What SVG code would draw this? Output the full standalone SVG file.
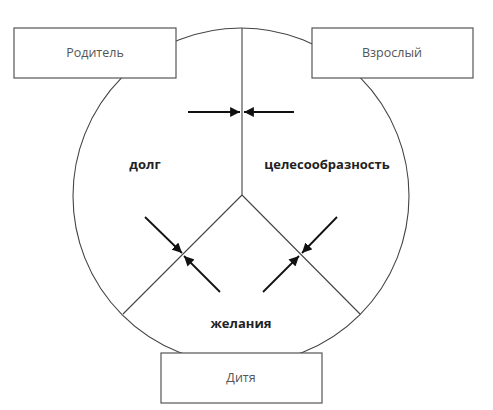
<svg xmlns="http://www.w3.org/2000/svg" width="493" height="410" viewBox="0 0 493 410">
<style>
.box{fill:#fff;stroke:#555;stroke-width:1.2}
.lbl{font-family:"Open Sans","Liberation Sans",sans-serif;font-size:12.5px;fill:#555;text-anchor:middle}
.zone{font-family:"Open Sans","Liberation Sans",sans-serif;font-size:13px;font-weight:bold;fill:#222;text-anchor:middle}
.ln{fill:none;stroke:#444;stroke-width:1.1}
.arr{stroke:#111;stroke-width:1.8;marker-end:url(#ah)}
</style>
<defs>
<marker id="ah" viewBox="0 0 10 10" refX="10" refY="5" markerWidth="5.5" markerHeight="5.5" orient="auto" markerUnits="strokeWidth">
<path d="M0,0 L10,5 L0,10 z" fill="#111"/>
</marker>
</defs>
<g id="circle"><circle class="ln" cx="241" cy="196" r="168"/></g>
<g id="connectors">
<path class="ln" d="M242,28 V195 M242,195 L123,314 M242,195 L360,314"/>
<line class="arr" x1="188" y1="112" x2="240" y2="112"/>
<line class="arr" x1="294" y1="112" x2="244" y2="112"/>
<line class="arr" x1="145" y1="217" x2="182" y2="253"/>
<line class="arr" x1="220" y1="292" x2="184" y2="256"/>
<line class="arr" x1="337" y1="217" x2="302" y2="253"/>
<line class="arr" x1="263" y1="292" x2="299" y2="256"/>
</g>
<g id="parent"><rect class="box" x="14" y="28" width="162" height="50"/><text class="lbl" x="95" y="57">Родитель</text></g>
<g id="adult"><rect class="box" x="312" y="28" width="161" height="50"/><text class="lbl" x="392" y="57">Взрослый</text></g>
<g id="child"><rect class="box" x="161" y="353" width="161" height="50"/><text class="lbl" x="241" y="382">Дитя</text></g>
<g id="duty"><text class="zone" x="145" y="169">долг</text></g>
<g id="expediency"><text class="zone" x="327" y="169">целесообразность</text></g>
<g id="desires"><text class="zone" x="241" y="328">желания</text></g>
</svg>
